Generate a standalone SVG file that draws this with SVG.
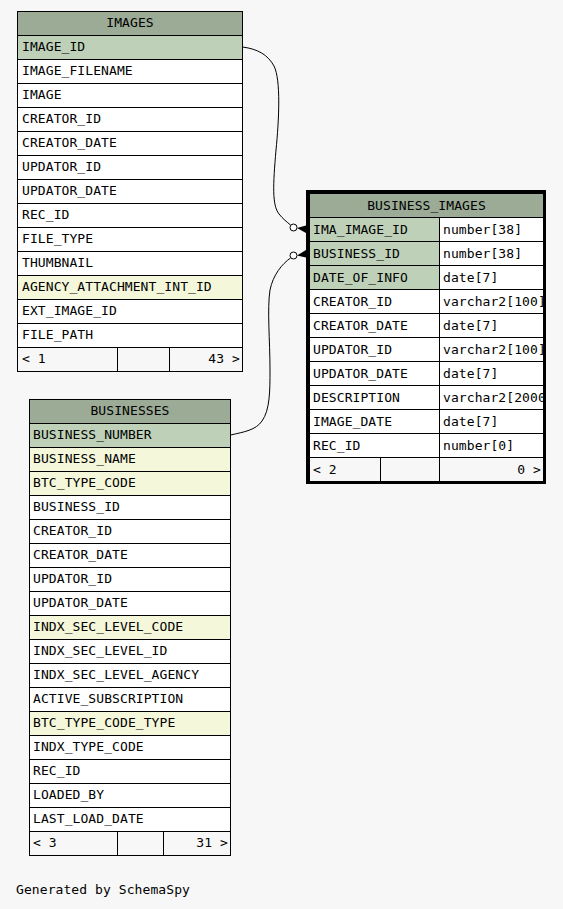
<svg xmlns="http://www.w3.org/2000/svg" width="563" height="909" viewBox="0 0 563 909">
<style>
text{font-family:"DejaVu Sans Mono","Liberation Mono",monospace;font-size:13px;fill:#000;letter-spacing:0.08px}
.hd{fill:#9bab96;stroke:#000;stroke-width:1}
.pk{fill:#bed1b8;stroke:#000;stroke-width:1}
.ix{fill:#f4f7da;stroke:#000;stroke-width:1}
.rw{fill:#ffffff;stroke:#000;stroke-width:1}
.ft{fill:#f7f7f7;stroke:#000;stroke-width:1}
.ln{stroke:#000;stroke-width:1;fill:none}
.c{text-anchor:middle}
.r{text-anchor:end}
.edge{fill:none;stroke:#000;stroke-width:1}
.dot{fill:#fff;stroke:#000;stroke-width:1}
</style>
<defs>
<clipPath id="biclip"><rect x="310" y="194" width="233" height="287"/></clipPath>
</defs>
<rect width="563" height="909" fill="#f7f7f7"/>

<g id="images">
<rect class="hd" x="17.5" y="11.5" width="225" height="24"/>
<text class="c" x="130" y="27">IMAGES</text>
<rect class="pk" x="17.5" y="35.5" width="225" height="24"/><text x="22" y="51">IMAGE_ID</text>
<rect class="rw" x="17.5" y="59.5" width="225" height="24"/><text x="22" y="75">IMAGE_FILENAME</text>
<rect class="rw" x="17.5" y="83.5" width="225" height="24"/><text x="22" y="99">IMAGE</text>
<rect class="rw" x="17.5" y="107.5" width="225" height="24"/><text x="22" y="123">CREATOR_ID</text>
<rect class="rw" x="17.5" y="131.5" width="225" height="24"/><text x="22" y="147">CREATOR_DATE</text>
<rect class="rw" x="17.5" y="155.5" width="225" height="24"/><text x="22" y="171">UPDATOR_ID</text>
<rect class="rw" x="17.5" y="179.5" width="225" height="24"/><text x="22" y="195">UPDATOR_DATE</text>
<rect class="rw" x="17.5" y="203.5" width="225" height="24"/><text x="22" y="219">REC_ID</text>
<rect class="rw" x="17.5" y="227.5" width="225" height="24"/><text x="22" y="243">FILE_TYPE</text>
<rect class="rw" x="17.5" y="251.5" width="225" height="24"/><text x="22" y="267">THUMBNAIL</text>
<rect class="ix" x="17.5" y="275.5" width="225" height="24"/><text x="22" y="291">AGENCY_ATTACHMENT_INT_ID</text>
<rect class="rw" x="17.5" y="299.5" width="225" height="24"/><text x="22" y="315">EXT_IMAGE_ID</text>
<rect class="rw" x="17.5" y="323.5" width="225" height="24"/><text x="22" y="339">FILE_PATH</text>
<rect class="ft" x="17.5" y="347.5" width="225" height="24"/>
<line class="ln" x1="117.5" y1="347.5" x2="117.5" y2="371.5"/>
<line class="ln" x1="169.5" y1="347.5" x2="169.5" y2="371.5"/>
<text x="22" y="363">&lt; 1</text>
<text class="r" x="240" y="363">43 &gt;</text>
</g>

<g id="businesses">
<rect class="hd" x="29.5" y="399.5" width="201" height="24"/>
<text class="c" x="130" y="415">BUSINESSES</text>
<rect class="pk" x="29.5" y="423.5" width="201" height="24"/><text x="33" y="439">BUSINESS_NUMBER</text>
<rect class="ix" x="29.5" y="447.5" width="201" height="24"/><text x="33" y="463">BUSINESS_NAME</text>
<rect class="ix" x="29.5" y="471.5" width="201" height="24"/><text x="33" y="487">BTC_TYPE_CODE</text>
<rect class="rw" x="29.5" y="495.5" width="201" height="24"/><text x="33" y="511">BUSINESS_ID</text>
<rect class="rw" x="29.5" y="519.5" width="201" height="24"/><text x="33" y="535">CREATOR_ID</text>
<rect class="rw" x="29.5" y="543.5" width="201" height="24"/><text x="33" y="559">CREATOR_DATE</text>
<rect class="rw" x="29.5" y="567.5" width="201" height="24"/><text x="33" y="583">UPDATOR_ID</text>
<rect class="rw" x="29.5" y="591.5" width="201" height="24"/><text x="33" y="607">UPDATOR_DATE</text>
<rect class="ix" x="29.5" y="615.5" width="201" height="24"/><text x="33" y="631">INDX_SEC_LEVEL_CODE</text>
<rect class="rw" x="29.5" y="639.5" width="201" height="24"/><text x="33" y="655">INDX_SEC_LEVEL_ID</text>
<rect class="rw" x="29.5" y="663.5" width="201" height="24"/><text x="33" y="679">INDX_SEC_LEVEL_AGENCY</text>
<rect class="rw" x="29.5" y="687.5" width="201" height="24"/><text x="33" y="703">ACTIVE_SUBSCRIPTION</text>
<rect class="ix" x="29.5" y="711.5" width="201" height="24"/><text x="33" y="727">BTC_TYPE_CODE_TYPE</text>
<rect class="rw" x="29.5" y="735.5" width="201" height="24"/><text x="33" y="751">INDX_TYPE_CODE</text>
<rect class="rw" x="29.5" y="759.5" width="201" height="24"/><text x="33" y="775">REC_ID</text>
<rect class="rw" x="29.5" y="783.5" width="201" height="24"/><text x="33" y="799">LOADED_BY</text>
<rect class="rw" x="29.5" y="807.5" width="201" height="24"/><text x="33" y="823">LAST_LOAD_DATE</text>
<rect class="ft" x="29.5" y="831.5" width="201" height="24"/>
<line class="ln" x1="117.5" y1="831.5" x2="117.5" y2="855.5"/>
<line class="ln" x1="163.5" y1="831.5" x2="163.5" y2="855.5"/>
<text x="33" y="847">&lt; 3</text>
<text class="r" x="228" y="847">31 &gt;</text>
</g>

<g id="business_images">
<rect x="306" y="190" width="240" height="294" fill="#000"/>
<g clip-path="url(#biclip)">
<rect class="hd" x="309.5" y="193.5" width="234" height="24"/>
<text class="c" x="426.5" y="210">BUSINESS_IMAGES</text>
<rect class="pk" x="309.5" y="217.5" width="130" height="24"/><rect class="rw" x="439.5" y="217.5" width="104" height="24"/>
<text x="313" y="234">IMA_IMAGE_ID</text><text x="443" y="234">number[38]</text>
<rect class="pk" x="309.5" y="241.5" width="130" height="24"/><rect class="rw" x="439.5" y="241.5" width="104" height="24"/>
<text x="313" y="258">BUSINESS_ID</text><text x="443" y="258">number[38]</text>
<rect class="pk" x="309.5" y="265.5" width="130" height="24"/><rect class="rw" x="439.5" y="265.5" width="104" height="24"/>
<text x="313" y="282">DATE_OF_INFO</text><text x="443" y="282">date[7]</text>
<rect class="rw" x="309.5" y="289.5" width="130" height="24"/><rect class="rw" x="439.5" y="289.5" width="104" height="24"/>
<text x="313" y="306">CREATOR_ID</text><text x="443" y="306">varchar2[100]</text>
<rect class="rw" x="309.5" y="313.5" width="130" height="24"/><rect class="rw" x="439.5" y="313.5" width="104" height="24"/>
<text x="313" y="330">CREATOR_DATE</text><text x="443" y="330">date[7]</text>
<rect class="rw" x="309.5" y="337.5" width="130" height="24"/><rect class="rw" x="439.5" y="337.5" width="104" height="24"/>
<text x="313" y="354">UPDATOR_ID</text><text x="443" y="354">varchar2[100]</text>
<rect class="rw" x="309.5" y="361.5" width="130" height="24"/><rect class="rw" x="439.5" y="361.5" width="104" height="24"/>
<text x="313" y="378">UPDATOR_DATE</text><text x="443" y="378">date[7]</text>
<rect class="rw" x="309.5" y="385.5" width="130" height="24"/><rect class="rw" x="439.5" y="385.5" width="104" height="24"/>
<text x="313" y="402">DESCRIPTION</text><text x="443" y="402">varchar2[2000</text>
<rect class="rw" x="309.5" y="409.5" width="130" height="24"/><rect class="rw" x="439.5" y="409.5" width="104" height="24"/>
<text x="313" y="426">IMAGE_DATE</text><text x="443" y="426">date[7]</text>
<rect class="rw" x="309.5" y="433.5" width="130" height="24"/><rect class="rw" x="439.5" y="433.5" width="104" height="24"/>
<text x="313" y="450">REC_ID</text><text x="443" y="450">number[0]</text>
<rect class="ft" x="309.5" y="457.5" width="234" height="24"/>
<line class="ln" x1="380.5" y1="457.5" x2="380.5" y2="481.5"/>
<line class="ln" x1="439.5" y1="457.5" x2="439.5" y2="481.5"/>
<text x="313" y="474">&lt; 2</text>
<text class="r" x="541" y="474">0 &gt;</text>
</g>
</g>

<g id="connectors">
<path class="edge" d="M242.5,47 C258,49 268,55 274,66 C281,80 279,120 276,150 C273,185 272,205 279,214 C283,219 287,222 290.5,225"/>
<circle class="dot" cx="293.5" cy="227.5" r="3.5"/>
<polygon points="297,228 306,225.5 306,233" fill="#000"/>
<path class="edge" d="M230.5,435 C244,432 256,430 262,421 C270,410 270,390 270,370 C270,340 267,310 270,290 C273,275 282,264 290.5,258"/>
<circle class="dot" cx="293.5" cy="255.5" r="3.5"/>
<polygon points="297,255.5 306,250 306,257.5" fill="#000"/>
</g>

<text x="16" y="894">Generated by SchemaSpy</text>
</svg>
